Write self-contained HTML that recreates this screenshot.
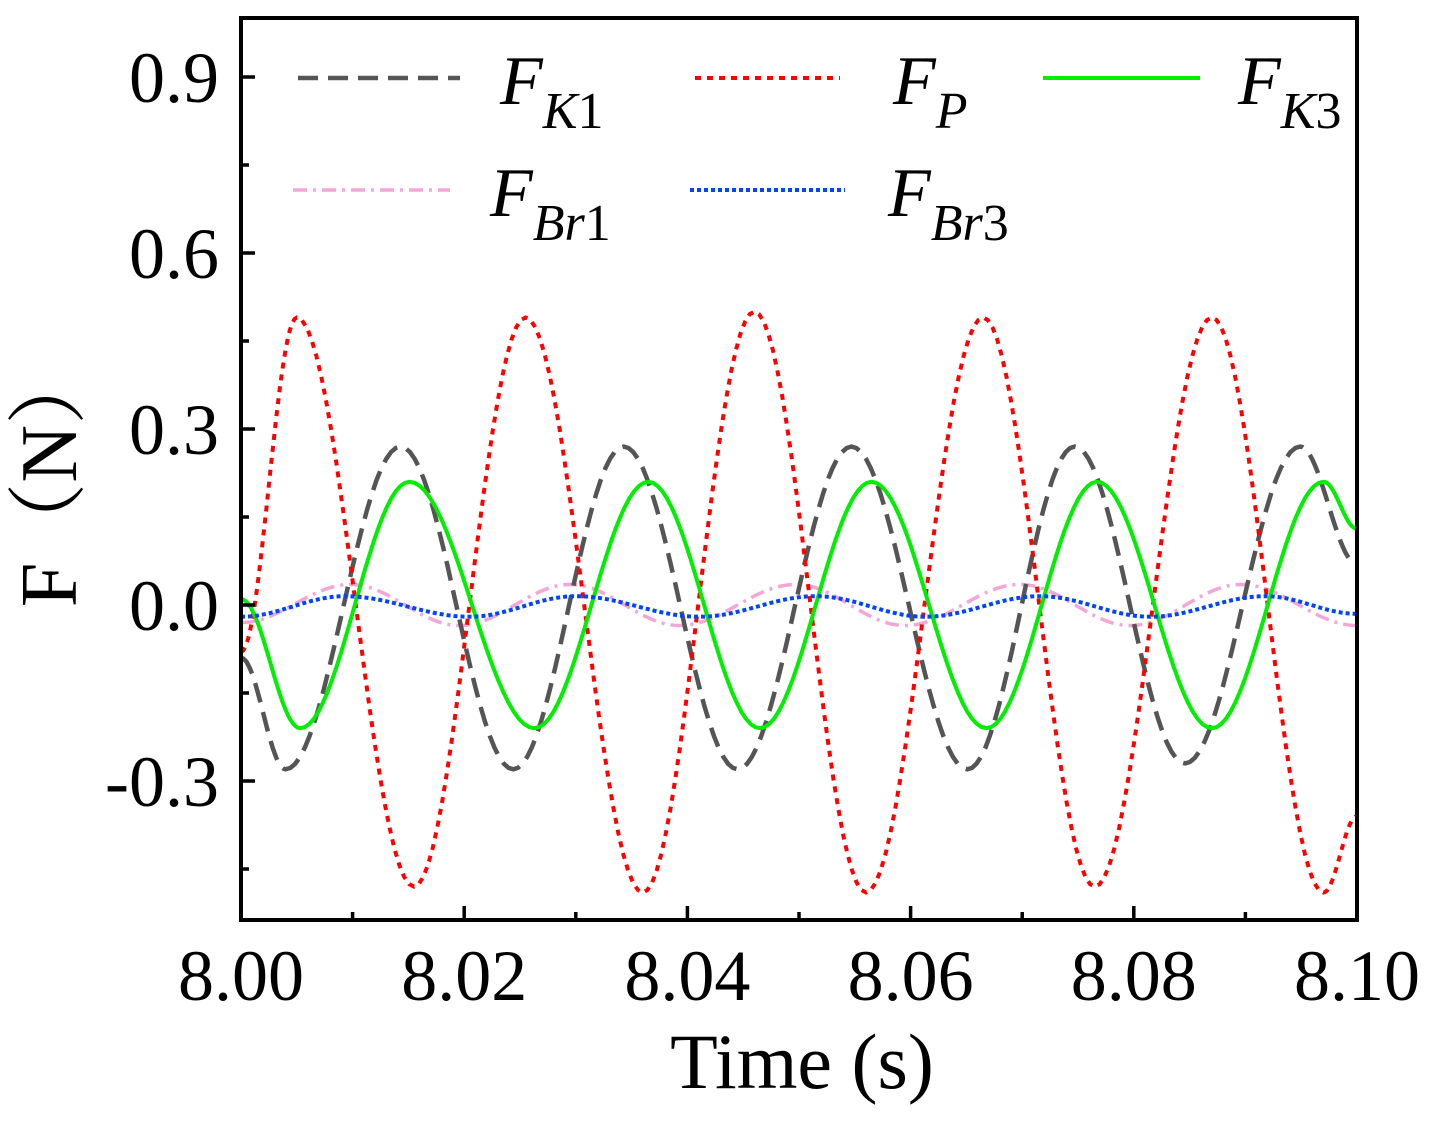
<!DOCTYPE html>
<html><head><meta charset="utf-8"><style>
html,body{margin:0;padding:0;background:#fff;}
svg text{font-family:"Liberation Serif","Noto Serif CJK SC",serif;}
</style></head><body>
<svg id="chart" width="1449" height="1125" viewBox="0 0 1449 1125" xmlns="http://www.w3.org/2000/svg">
<g id="series"></g>
<g id="axes"></g>
<text x="0" y="0" transform="translate(76,476) rotate(-90)" text-anchor="middle" font-size="80">F（N）</text>
<text x="802" y="1088" text-anchor="middle" font-size="78">Time (s)</text>
<g id="legend"></g>
</svg>
<script>
const xTicks=[8.00,8.02,8.04,8.06,8.08,8.10];
const xTickLabels=["8.00","8.02","8.04","8.06","8.08","8.10"];
const yTicks=[-0.3,0,0.3,0.6,0.9];
const yTickLabels=["-0.3","0.0","0.3","0.6","0.9"];
const fpT=[8.000,8.005,8.0155,8.0255,8.036,8.046,8.056,8.0665,8.0765,8.087,8.097,8.100];
const fpV=[-0.08,0.49,-0.48,0.49,-0.49,0.50,-0.49,0.49,-0.48,0.49,-0.49,-0.36];
const fk1T=[8.000,8.004,8.0143,8.0244,8.0343,8.0445,8.0547,8.0651,8.0747,8.0846,8.0949,8.100];
const fk1V=[-0.09,-0.28,0.27,-0.28,0.27,-0.28,0.27,-0.28,0.27,-0.27,0.27,0.07];
const fk3T=[8.000,8.0053,8.0151,8.0263,8.0365,8.0465,8.0565,8.0668,8.0767,8.087,8.097,8.100];
const fk3V=[0.01,-0.21,0.21,-0.21,0.21,-0.21,0.21,-0.21,0.21,-0.21,0.21,0.13];
const fbr1T=[8.000,8.0098,8.0196,8.0295,8.0393,8.0497,8.0595,8.0698,8.0797,8.0896,8.100];
const fbr1V=[-0.03,0.035,-0.035,0.035,-0.035,0.035,-0.035,0.035,-0.035,0.035,-0.035];
const fbr3T=[8.000,8.0093,8.0205,8.030,8.0411,8.0515,8.0613,8.0716,8.0815,8.0918,8.100];
const fbr3V=[-0.02,0.015,-0.02,0.015,-0.02,0.015,-0.02,0.015,-0.02,0.015,-0.015];

const L=241,R=1357,T=18,B=920,xMin=8.0,xMax=8.1;
const y0=605,yPer=176/0.3;
const X=t=>L+(t-xMin)/(xMax-xMin)*(R-L);
const Y=v=>y0-v*yPer;
const NS="http://www.w3.org/2000/svg";
function mk(tag,attrs,parent){const e=document.createElementNS(NS,tag);for(const k in attrs)e.setAttribute(k,attrs[k]);parent.appendChild(e);return e;}

function pathFor(ts,vs){
  let d="M"+X(ts[0]).toFixed(1)+","+Y(vs[0]).toFixed(1);
  for(let i=0;i<ts.length-1;i++){
    const n=24;
    for(let k=1;k<=n;k++){
      const f=k/n,s=(1-Math.cos(Math.PI*f))/2;
      const t=ts[i]+(ts[i+1]-ts[i])*f, v=vs[i]+(vs[i+1]-vs[i])*s;
      d+=" L"+X(t).toFixed(1)+","+Y(v).toFixed(1);
    }
  }
  return d;
}
const sg=document.getElementById('series');
const defs=[
 {t:fbr1T,v:fbr1V,c:"#f4a6d7",w:3.5,da:"14 6 3 6",n:"series-fbr1"},
 {t:fk1T,v:fk1V,c:"#555555",w:4.5,da:"20 10",n:"series-fk1"},
 {t:fpT,v:fpV,c:"#ff0000",w:4,da:"6 6",n:"series-fp"},
 {t:fk3T,v:fk3V,c:"#00ee00",w:4,da:"",n:"series-fk3"},
 {t:fbr3T,v:fbr3V,c:"#0044ff",w:4,da:"4 3",n:"series-fbr3"}
];
defs.forEach(s=>{
  const p=mk('path',{d:pathFor(s.t,s.v),fill:"none",stroke:s.c,"stroke-width":s.w,"stroke-dasharray":s.da},sg);
  
  
});
const ax=document.getElementById('axes');
const fr=mk('rect',{x:L,y:T,width:R-L,height:B-T,fill:"none",stroke:"#000","stroke-width":4},ax);


xTicks.forEach((t,i)=>{
  mk('line',{x1:X(t),x2:X(t),y1:B,y2:B-14,stroke:"#000","stroke-width":3.5},ax);
  if(i<xTicks.length-1){mk('line',{x1:X(t+0.01),x2:X(t+0.01),y1:B,y2:B-8,stroke:"#000","stroke-width":3.5},ax);}
  const tx=mk('text',{x:X(t),y:1000,"text-anchor":"middle","font-size":72},ax);
  tx.textContent=xTickLabels[i];
  
  
});
yTicks.forEach((v,i)=>{
  mk('line',{x1:L,x2:L+14,y1:Y(v),y2:Y(v),stroke:"#000","stroke-width":3.5},ax);
  mk('line',{x1:L,x2:L+8,y1:Y(v+0.15),y2:Y(v+0.15),stroke:"#000","stroke-width":3.5},ax);
  const tx=mk('text',{x:L-22,y:Y(v)+25,"text-anchor":"end","font-size":72},ax);
  tx.textContent=yTickLabels[i];
  
  
});
mk('line',{x1:L,x2:L+8,y1:Y(-0.45),y2:Y(-0.45),stroke:"#000","stroke-width":3.5},ax);
const lg=document.getElementById('legend');
const items=[
 {x1:298,x2:460,y:78,tx:500,c:"#555555",w:4.5,da:"20 10",sub:"K1",n:"legend-fk1"},
 {x1:695,x2:840,y:78,tx:893,c:"#ff0000",w:4,da:"6 6",sub:"P",n:"legend-fp"},
 {x1:1043,x2:1200,y:78,tx:1238,c:"#00ee00",w:4,da:"",sub:"K3",n:"legend-fk3"},
 {x1:293,x2:450,y:190,tx:490,c:"#f4a6d7",w:3.5,da:"14 6 3 6",sub:"Br1",n:"legend-fbr1"},
 {x1:690,x2:845,y:190,tx:888,c:"#0044ff",w:4,da:"4 3",sub:"Br3",n:"legend-fbr3"}
];
items.forEach(it=>{
  const g=mk('g',{},lg);
  
  
  mk('line',{x1:it.x1,x2:it.x2,y1:it.y,y2:it.y,stroke:it.c,"stroke-width":it.w,"stroke-dasharray":it.da},g);
  const t=mk('text',{x:it.tx,y:it.y+26,"font-size":70,"font-style":"italic"},g);
  t.innerHTML='F<tspan font-size="52" dy="24">'+it.sub.replace(/(\d)/,'<tspan font-style="normal">$1</tspan>')+'</tspan>';
});
</script>
</body></html>
